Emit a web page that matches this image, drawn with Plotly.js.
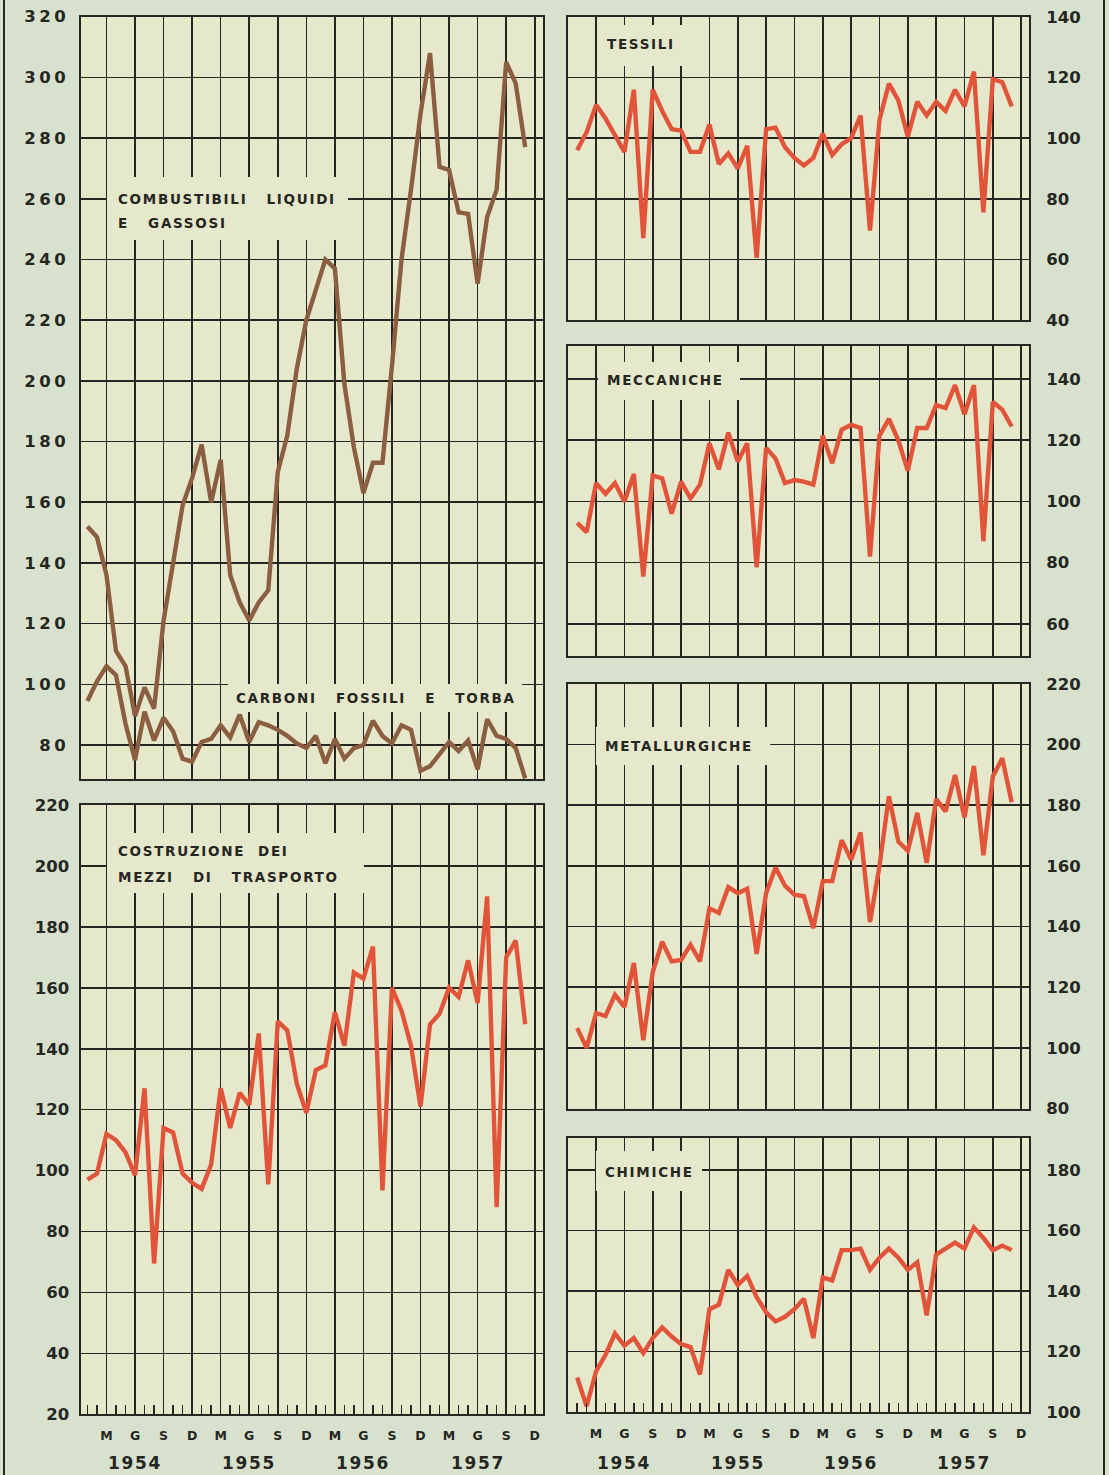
<!DOCTYPE html>
<html>
<head>
<meta charset="utf-8">
<script src="https://cdn.plot.ly/plotly-3.0.1.min.js"></script>
<style>
  html, body { margin: 0; padding: 0; background: #d7e1ce; }
  #chart { width: 1109px; height: 1475px; }
  .ytick text { letter-spacing: 3.5px; }
  .xtick text { letter-spacing: 0px; }
  .annotation-text { letter-spacing: 1.7px; }
</style>
</head>
<body>
<div id="chart"></div>
<script>
// ---- categories (months Jan 1954 .. Nov 1957) ----
const months = ['1954-01','1954-02','1954-03','1954-04','1954-05','1954-06','1954-07','1954-08','1954-09','1954-10','1954-11','1954-12',
                '1955-01','1955-02','1955-03','1955-04','1955-05','1955-06','1955-07','1955-08','1955-09','1955-10','1955-11','1955-12',
                '1956-01','1956-02','1956-03','1956-04','1956-05','1956-06','1956-07','1956-08','1956-09','1956-10','1956-11','1956-12',
                '1957-01','1957-02','1957-03','1957-04','1957-05','1957-06','1957-07','1957-08','1957-09','1957-10','1957-11'];

// quarter ticks (Marzo, Giugno, Settembre, Dicembre)
const tickIdx     = [2,5,8,11,14,17,20,23,26,29,32,35,38,41,44,47];
const tickLetters = ['M','G','S','D','M','G','S','D','M','G','S','D','M','G','S','D'];
const years       = ['1954','1955','1956','1957'];
const yearIdx     = [5,17,29,41];

// ---- series (index numbers) ----
const combustibili = [152,148.5,136,111,106,89.5,99,92,121,140.5,159,168,179,160,174,136,127,121,127,131,170,182,204,220,230,240,237,199,178,163,173,173,205,240,263,288,308,270.5,269.5,255.5,255,232,254,263,305,298,277];
const carboni      = [94.5,101,106,103,87,75,91,81.5,89,84.5,75.5,74.5,81,82,86.5,82.5,90,81,87.5,86.5,85,83,80.5,79,83,74,82,75.5,79,80,88,83,80.5,86.5,85,71.5,73,77,81,78,81.5,72,88.5,83,82,79,69];
const trasporti    = [97,99,112,110,106,98.5,127,69.5,114,112.5,99,96,94,102,127,114,125.5,121.5,145,95.5,149,146,128.5,119,133,134.5,152,141,165,163,173.5,93.5,160,152.5,141,121,148,151.5,160,157,169,155,190,88,170,175.5,148];
const tessili      = [96,102,111,106.5,101,95.5,116,67,116,109,103,102.5,95.5,95.5,104.5,91.5,95,90,97.5,60.5,103,103.5,97,93.5,91,93.5,101.5,94.5,98,100,107.5,69.5,106,118,112.5,100.5,112,107.5,112,109,116,110.5,122,75.5,119.5,118.5,110.5];
const meccaniche   = [93,90,106,102.5,106,100,109,75.5,108.5,107.5,96,106.5,101,105.5,119,110.5,122.5,113,119,78.5,117.5,114,106,107,106.5,105.5,121.5,112.5,123.5,125,124,82,121.5,127,120,110,124,124,131.5,130.5,138,128.5,138,87,132.5,130,124.5];
const metallurgiche= [106.5,100,111.5,110.5,117.5,113.5,128,102.5,125,135,128.5,129,134,128.5,146,144.5,153,151,152.5,131,151,159.5,153.5,150.5,150,139.5,155,155,168.5,162,171,141.5,160,183,168,165,177.5,161,182,178,190,176,193,163.5,189.5,195.5,181];
const chimiche     = [111.5,102,113.5,119,126,122,124.5,119.5,124.5,128,125,122.5,121.5,112.5,134,135.5,147,142,145,138,133,130,131.5,134,137.5,124.5,144.5,143.5,153.5,153.5,154,147,151,154,151,147,149.5,132,152,154,156,154,161,157.5,153.5,155,153.5];

// tick values of the y axes
const yTicksComb  = [80,100,120,140,160,180,200,220,240,260,280,300,320];
const yTicksTrasp = [20,40,60,80,100,120,140,160,180,200,220];
const yTicksTess  = [40,60,80,100,120,140];
const yTicksMecc  = [60,80,100,120,140];
const yTicksMetal = [80,100,120,140,160,180,200,220];
const yTicksChim  = [100,120,140,160,180];

// ---- styling ----
const W = 1109, H = 1475;
const PAPER = '#d7e1ce', PLOT = '#e5e8cb', INK = '#262622';
const BROWN = '#8a5e3e', RED = '#e2543a';
const FONT = 'DejaVu Sans';
const px = v => v / W;
const py = v => 1 - v / H;
const idx = months.map((m, i) => i);

function tr(y, xa, ya, color) {
  return { x: idx, y: y, xaxis: xa, yaxis: ya, type: 'scatter', mode: 'lines',
           line: { color: color, width: 4.4 }, hoverinfo: 'skip', showlegend: false };
}

const data = [
  tr(combustibili, 'x', 'y', BROWN),
  tr(carboni, 'x', 'y', BROWN),
  tr(trasporti, 'x2', 'y2', RED),
  tr(tessili, 'x3', 'y3', RED),
  tr(meccaniche, 'x4', 'y4', RED),
  tr(metallurgiche, 'x5', 'y5', RED),
  tr(chimiche, 'x6', 'y6', RED)
];

const LDOM = [px(80.5), px(543)], LRANGE = [-0.73, 47.87];
const RDOM = [px(568), px(1029)], RRANGE = [-0.97, 47.83];

function xax(dom, rng, anchor, bottom) {
  const a = { domain: dom, range: rng, anchor: anchor, fixedrange: true,
    tickmode: 'array', tickvals: tickIdx, ticktext: tickLetters,
    showticklabels: bottom, ticks: '', ticklabelstandoff: 9,
    tickfont: { family: FONT, size: 12.5, color: INK, weight: 'bold' },
    showgrid: true, gridcolor: INK, gridwidth: 1.6, zeroline: false,
    showline: true, mirror: true, linecolor: INK, linewidth: 2 };
  if (bottom) {
    a.minor = { tickmode: 'linear', tick0: 0, dtick: 1, ticks: 'inside', ticklen: 9,
                tickwidth: 1.5, tickcolor: INK, showgrid: false };
  }
  return a;
}
function yax(dom, rng, anchor, vals, side) {
  return { domain: dom, range: rng, anchor: anchor, side: side, fixedrange: true,
    tickmode: 'array', tickvals: vals, ticks: '',
    ticklabelstandoff: side === 'left' ? 6 : 12,
    tickfont: { family: FONT, size: 16.5, color: INK, weight: 'bold' },
    showgrid: true, gridcolor: INK, gridwidth: 1.6, zeroline: false,
    showline: true, mirror: true, linecolor: INK, linewidth: 2 };
}

// label boxes that hide the grid behind the panel titles (pixel rectangles)
function rect(x0, y0, x1, y1) {
  return { type: 'rect', xref: 'paper', yref: 'paper', layer: 'above',
    x0: px(x0), x1: px(x1), y0: py(y1), y1: py(y0),
    fillcolor: PLOT, line: { width: 0 } };
}
function label(xl, yc, text) {
  return { xref: 'paper', yref: 'paper', x: px(xl), y: py(yc), xanchor: 'left', yanchor: 'middle',
    text: text, showarrow: false, align: 'left', borderpad: 0,
    font: { family: FONT, size: 13.5, color: INK, weight: 'bold' } };
}
const NB = '\u00a0\u00a0\u00a0';

const annotations = [
  label(117, 199, 'COMBUSTIBILI' + NB + 'LIQUIDI'),
  label(117, 223, 'E' + NB + 'GASSOSI'),
  label(235, 698, 'CARBONI' + NB + 'FOSSILI' + NB + 'E' + NB + 'TORBA'),
  label(117, 851, 'COSTRUZIONE\u00a0\u00a0DEI'),
  label(117, 877, 'MEZZI' + NB + 'DI' + NB + 'TRASPORTO'),
  label(606, 44, 'TESSILI'),
  label(606, 380, 'MECCANICHE'),
  label(604, 746, 'METALLURGICHE'),
  label(604, 1172, 'CHIMICHE')
];
years.forEach((yr, k) => {
  ['x2', 'x6'].forEach(xr => {
    annotations.push({ xref: xr, yref: 'paper', x: yearIdx[k], y: py(1463), text: yr, showarrow: false,
      xanchor: 'center', yanchor: 'middle', font: { family: FONT, size: 17, color: INK, weight: 'bold' } });
  });
});

const shapes = [
  rect(107, 177, 348, 240),
  rect(228, 684, 522, 712),
  rect(107, 833, 364, 893),
  rect(598, 25, 690, 66),
  rect(598, 362, 740, 400),
  rect(596, 727, 770, 765),
  rect(596, 1151, 702, 1191),
  { type: 'line', xref: 'paper', yref: 'paper', x0: px(4), x1: px(4), y0: 0, y1: 1, line: { color: INK, width: 2 } },
  { type: 'line', xref: 'paper', yref: 'paper', x0: px(1104), x1: px(1104), y0: 0, y1: 1, line: { color: INK, width: 2 } }
];

const layout = {
  width: W, height: H,
  margin: { l: 0, r: 0, t: 0, b: 0 },
  paper_bgcolor: PAPER, plot_bgcolor: PLOT,
  showlegend: false,
  xaxis:  xax(LDOM, LRANGE, 'y', false),
  yaxis:  yax([py(779), py(16.7)], [68.8, 320], 'x', yTicksComb, 'left'),
  xaxis2: xax(LDOM, LRANGE, 'y2', true),
  yaxis2: yax([py(1414.3), py(805)], [20, 220], 'x2', yTicksTrasp, 'left'),
  xaxis3: xax(RDOM, RRANGE, 'y3', false),
  yaxis3: yax([py(320), py(17)], [40, 140], 'x3', yTicksTess, 'right'),
  xaxis4: xax(RDOM, RRANGE, 'y4', false),
  yaxis4: yax([py(656), py(346)], [49.5, 150.8], 'x4', yTicksMecc, 'right'),
  xaxis5: xax(RDOM, RRANGE, 'y5', false),
  yaxis5: yax([py(1108.5), py(684)], [80, 220], 'x5', yTicksMetal, 'right'),
  xaxis6: xax(RDOM, RRANGE, 'y6', true),
  yaxis6: yax([py(1412.3), py(1138)], [100, 190.5], 'x6', yTicksChim, 'right'),
  annotations: annotations,
  shapes: shapes
};

Plotly.newPlot('chart', data, layout, { staticPlot: true, displayModeBar: false });
</script>
</body>
</html>
